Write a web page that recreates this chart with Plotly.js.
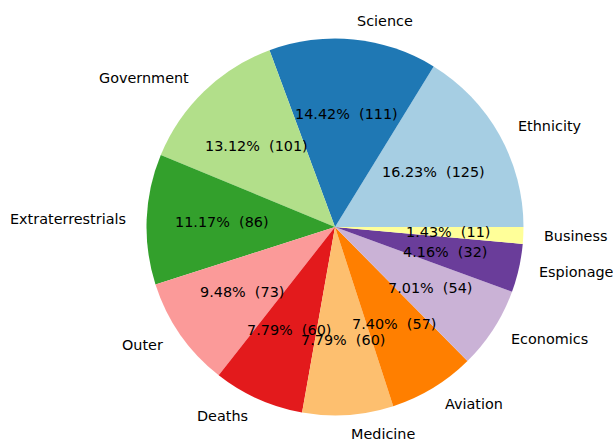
<!DOCTYPE html>
<html>
<head>
<meta charset="utf-8">
<script src="https://cdn.plot.ly/plotly-3.0.1.min.js"></script>
<style>html,body{margin:0;padding:0;background:#fff;}#chart{width:613px;height:442px;}</style>
</head>
<body>
<div id="chart"></div>
<script>
const categories = ["Ethnicity","Science","Government","Extraterrestrials","Outer","Deaths","Medicine","Aviation","Economics","Espionage","Business"];
const counts = [125,111,101,86,73,60,60,57,54,32,11];
const colors = ["#a6cee3","#1f78b4","#b2df8a","#33a02c","#fb9a99","#e31a1c","#fdbf6f","#ff7f00","#cab2d6","#6a3d9a","#ffff99"];

const W = 613, H = 442;
const cx = 335, cy = 227, R = 188.5;
const total = counts.reduce((a,b)=>a+b,0);
const FS = 14.4;

const annotations = [];
let cum = 0;
counts.forEach((v,i)=>{
  const mid = 2*Math.PI*(cum + v/2)/total;
  cum += v;
  const c = Math.cos(mid), s = Math.sin(mid);
  const lx = cx + 1.1*R*c, ly = cy - 1.1*R*s;
  annotations.push({
    x: lx/W, y: 1 - ly/H, xref:'paper', yref:'paper', showarrow:false,
    text: categories[i], xanchor: c >= 0 ? 'left' : 'right', yanchor:'middle',
    font:{family:'DejaVu Sans', size:FS, color:'#000'}
  });
  const px = cx + 0.6*R*c, py = cy - 0.6*R*s;
  annotations.push({
    x: px/W, y: 1 - py/H, xref:'paper', yref:'paper', showarrow:false,
    text: (100*v/total).toFixed(2) + '%  (' + v + ')', xanchor:'center', yanchor:'middle',
    font:{family:'DejaVu Sans', size:FS, color:'#000'}
  });
});

// Plotly ends the first counterclockwise slice at the rotation angle; shift so it starts at 3 o'clock
const rotation = 90 - 360*counts[0]/total;

const trace = {
  type:'pie', values: counts, labels: categories, sort:false,
  direction:'counterclockwise', rotation: rotation,
  marker:{colors: colors, line:{width:0}},
  textinfo:'none', hoverinfo:'label+value+percent',
  domain:{x:[(cx-R)/W,(cx+R)/W], y:[1-(cy+R)/H, 1-(cy-R)/H]}
};

Plotly.newPlot('chart',[trace],{
  width:W, height:H, margin:{l:0,r:0,t:0,b:0},
  showlegend:false, paper_bgcolor:'#fff', annotations: annotations
},{displayModeBar:false, staticPlot:true});
</script>
</body>
</html>
